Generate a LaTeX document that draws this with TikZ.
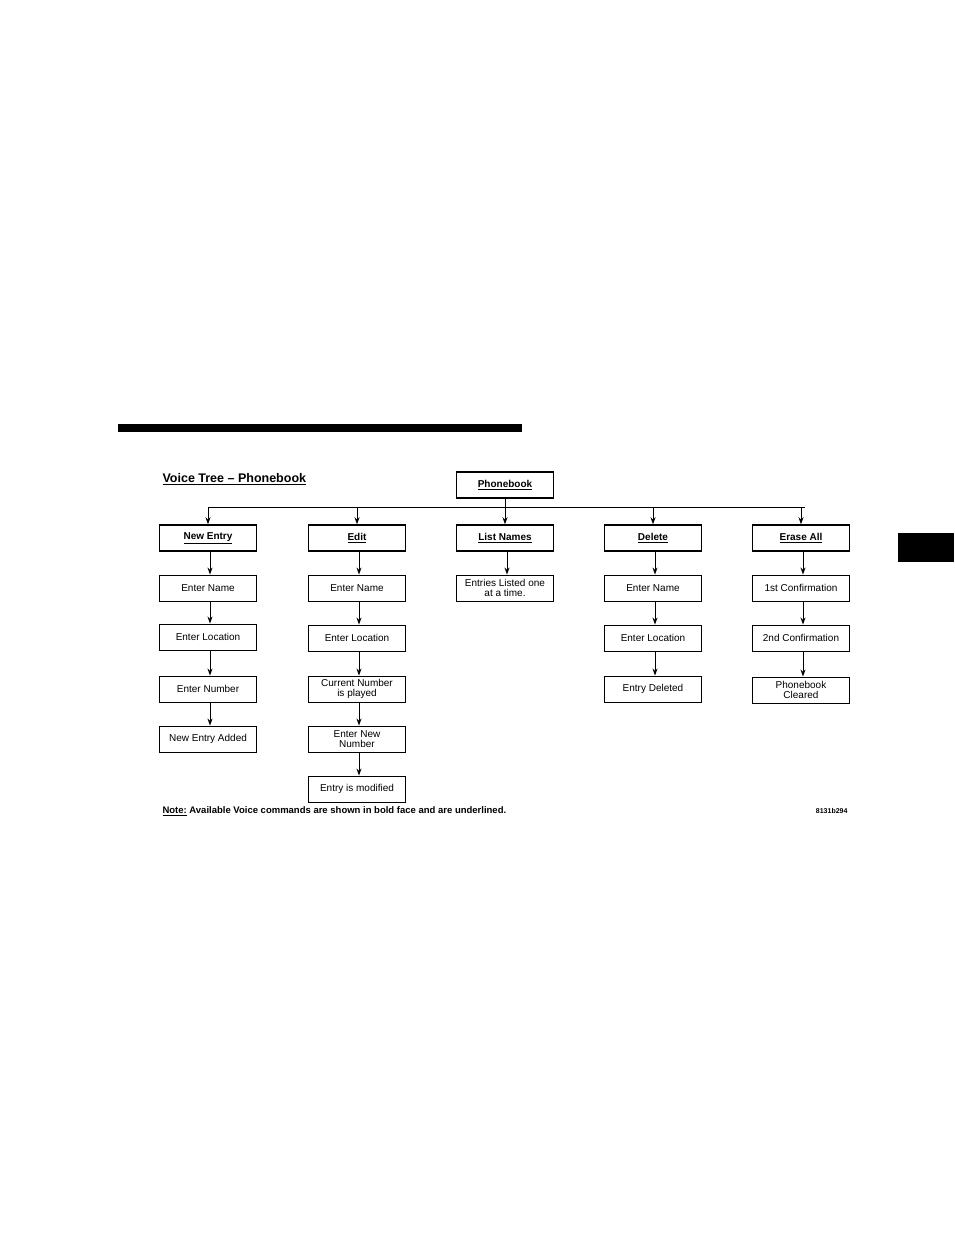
\documentclass[tikz,border=0pt]{standalone}
\usepackage{fontspec}
\setmainfont{Liberation Sans}
\usetikzlibrary{arrows.meta}
\begin{document}
\begin{tikzpicture}[x=1pt,y=-1pt,
  bx/.style={draw,line width=0.9pt,minimum width=97pt,minimum height=26pt,inner sep=1pt,align=center,font=\fontsize{10}{10.5}\selectfont},
  cmd/.style={bx,line width=1.5pt,font=\fontsize{10}{11}\selectfont\bfseries},
  ar/.style={line width=0.9pt,-{Stealth[length=7pt,width=5pt]}}]
\useasboundingbox (0,0) rectangle (954,1235);
\fill (118,424) rectangle (522,432);
\fill (898,533) rectangle (954,562);
\node[anchor=west,font=\fontsize{12.5}{13}\selectfont\bfseries] (title) at (159,479) {\underline{Voice Tree – Phonebook}};
\node[cmd] (pb) at (505,485) {\underline{Phonebook}};
\coordinate (hl) at (209,507);
\coordinate (hr) at (805,507);
\foreach \n/\x/\t in {a/208/New Entry,b/357/Edit,c/505/List Names,d/653/Delete,e/801/Erase All}{
  \node[cmd] (\n0) at (\x,538) {\underline{\t}};
}
\draw[line width=0.9pt] (pb.south) -- (505,507);
\draw[line width=0.9pt] (hl) -- (hr);
\foreach \n in {a,b,c,d,e}{ \draw[ar] (\n0.north |- hl) -- (\n0.north); }
% column a
\node[bx] (a1) at (208,588) {Enter Name};
\node[bx] (a2) at (208,637) {Enter Location};
\node[bx] (a3) at (208,689) {Enter Number};
\node[bx] (a4) at (208,739) {New Entry Added};
% column b
\node[bx] (b1) at (357,588) {Enter Name};
\node[bx] (b2) at (357,638) {Enter Location};
\node[bx] (b3) at (357,689) {Current Number\\is played};
\node[bx] (b4) at (357,739) {Enter New\\Number};
\node[bx] (b5) at (357,789) {Entry is modified};
% column c
\node[bx] (c1) at (505,588) {Entries Listed one\\at a time.};
% column d
\node[bx] (d1) at (653,588) {Enter Name};
\node[bx] (d2) at (653,638) {Enter Location};
\node[bx] (d3) at (653,689) {Entry Deleted};
% column e
\node[bx] (e1) at (801,588) {1st Confirmation};
\node[bx] (e2) at (801,638) {2nd Confirmation};
\node[bx] (e3) at (801,690) {Phonebook\\Cleared};
\foreach \p/\q in {a0/a1,a1/a2,a2/a3,a3/a4,b0/b1,b1/b2,b2/b3,b3/b4,b4/b5,c0/c1,d0/d1,d1/d2,d2/d3,e0/e1,e1/e2,e2/e3}{
  \draw[ar] ([xshift=2pt]\p.south) -- ([xshift=2pt]\q.north);
}
\node[anchor=west,font=\fontsize{9.5}{10}\selectfont\bfseries] (note) at (159,811) {\underline{Note:} Available Voice commands are shown in bold face and are underlined.};
\node[anchor=east,font=\fontsize{7}{8}\selectfont\bfseries] (code) at (851,811) {8131b294};
\end{tikzpicture}
\end{document}
